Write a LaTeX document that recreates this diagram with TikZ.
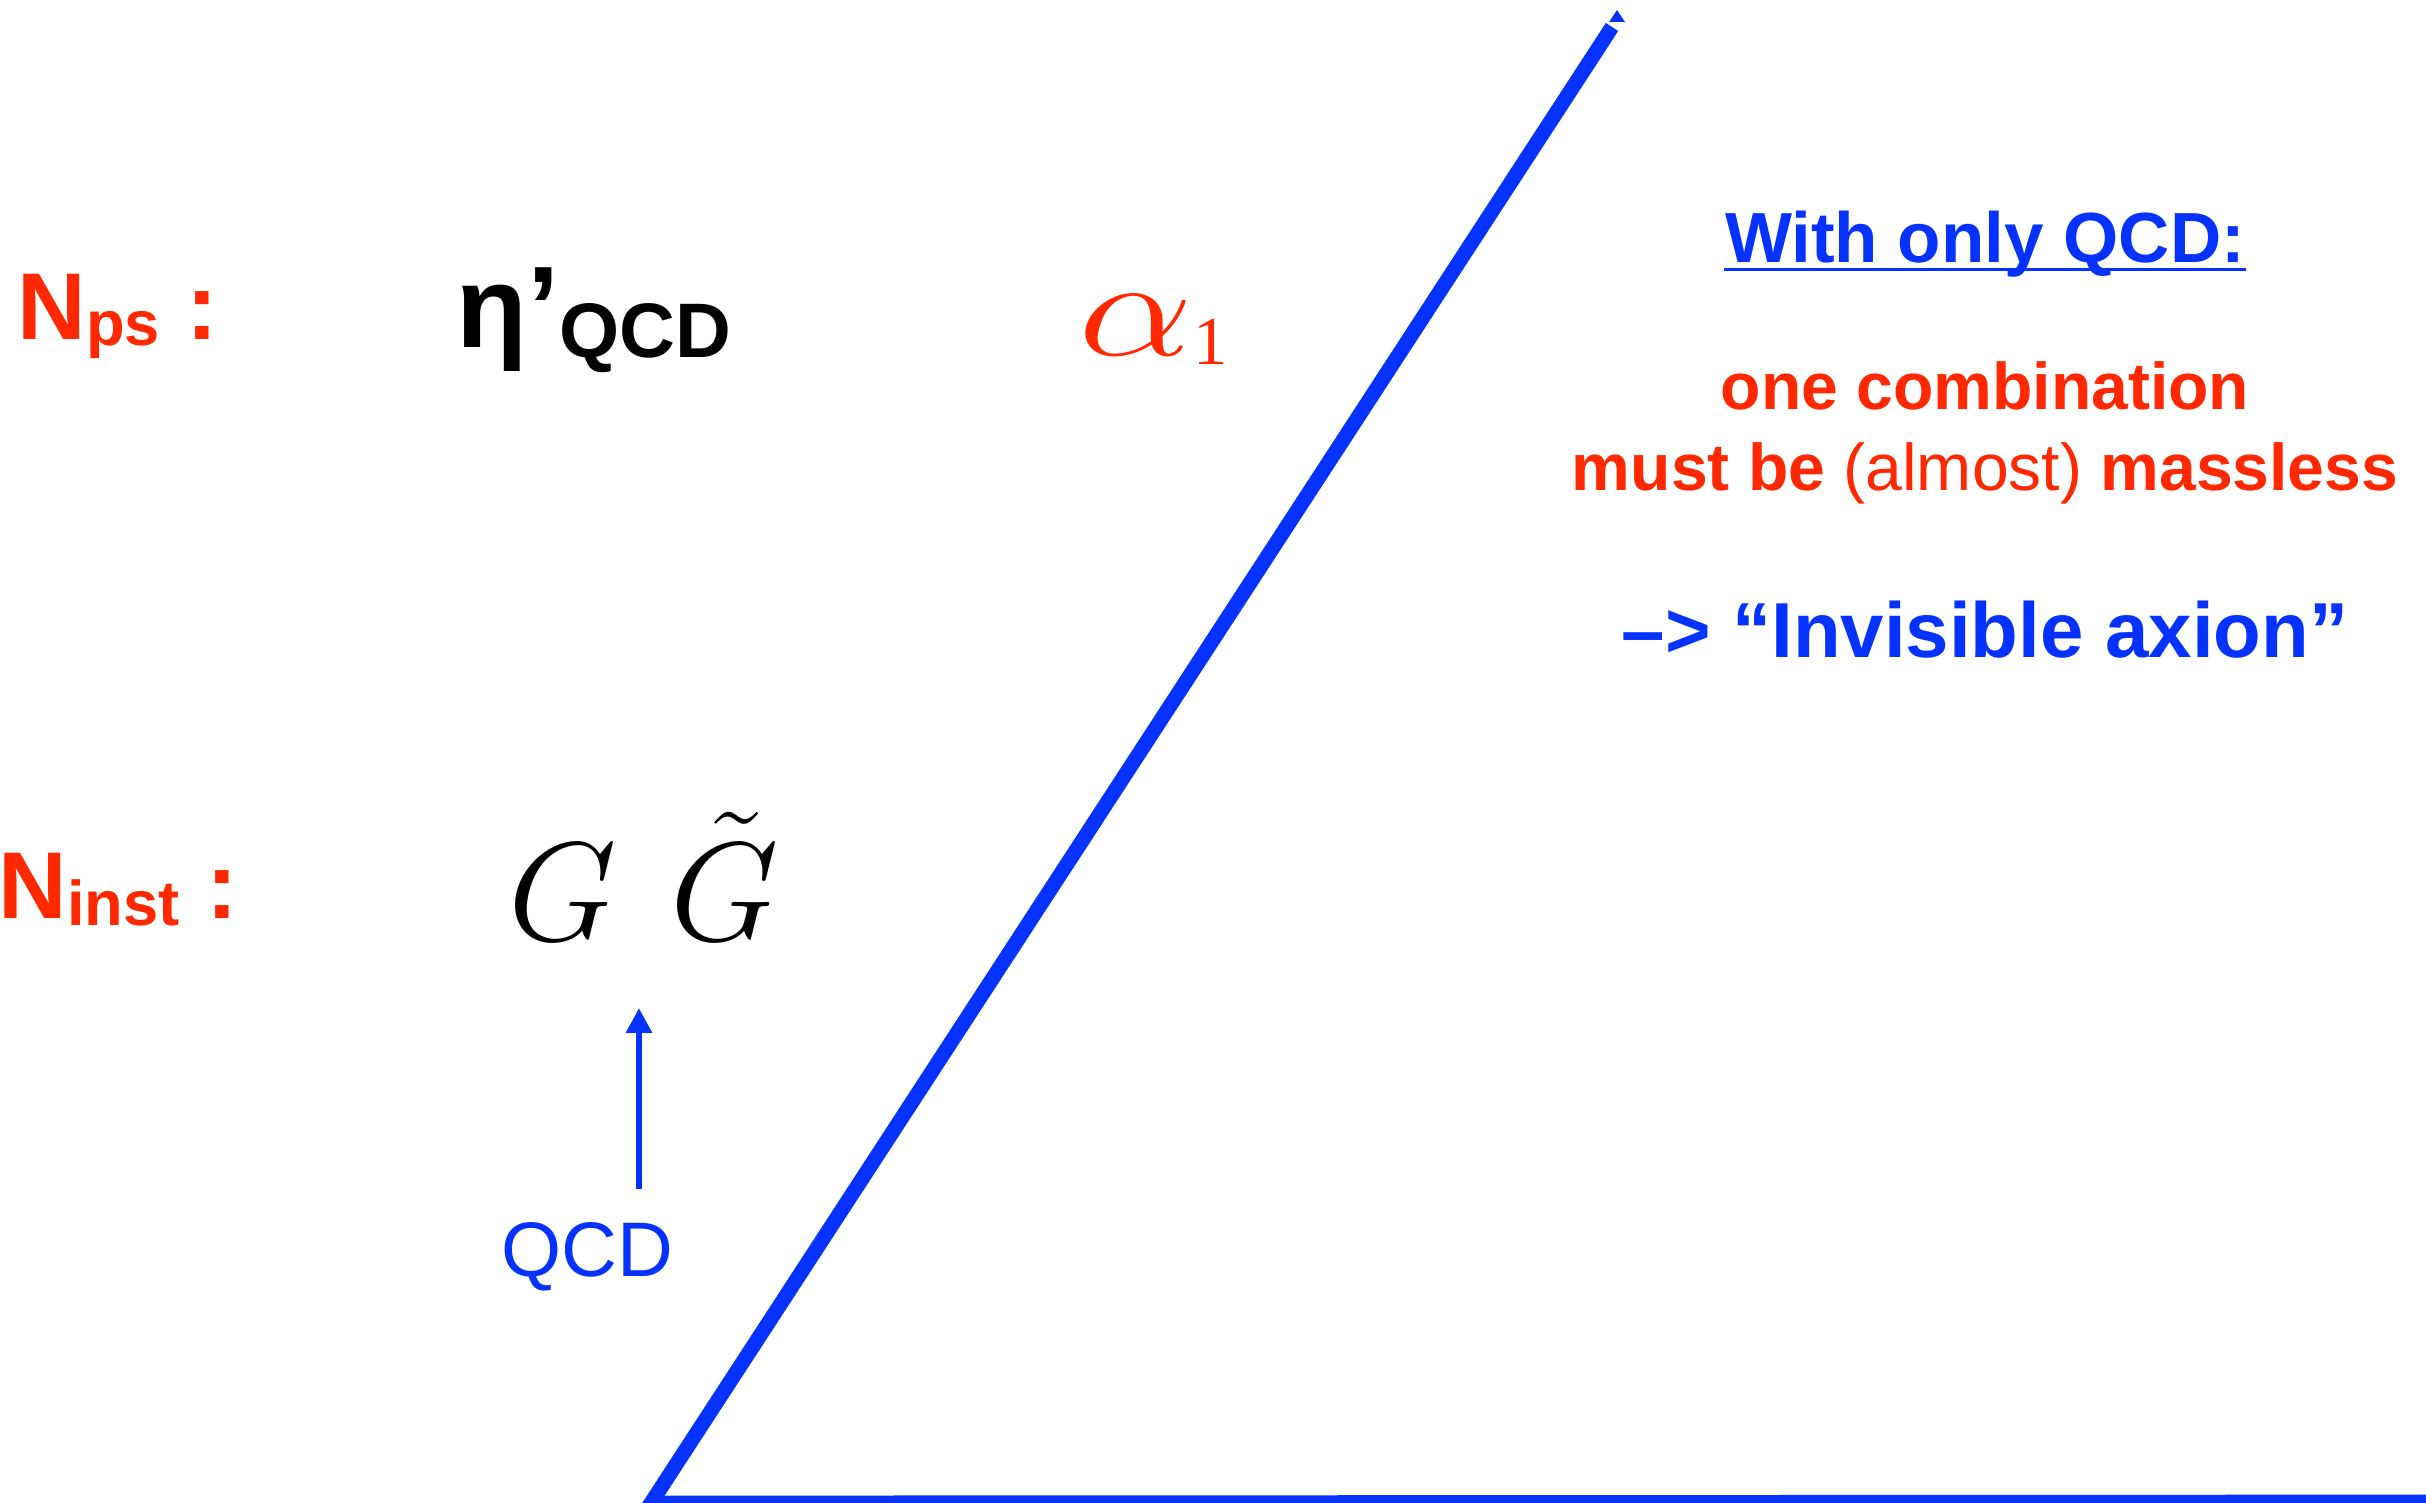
\RequirePackage{fix-cm}
\documentclass[tikz,border=0pt]{standalone}
\usepackage{graphicx}
\usepackage{fontspec}
\setmainfont{Liberation Sans}
\newfontfamily\timesfam{Liberation Serif}
\usetikzlibrary{arrows.meta}
\definecolor{axblue}{RGB}{5,50,255}
\definecolor{axred}{RGB}{255,40,0}
\newcommand{\fsz}[1]{\fontsize{#1}{#1}\selectfont}
\newcommand{\dn}[3]{\raisebox{-#1}{\fsz{#2}#3}}
\tikzset{
  fld/.style  ={inner sep=0pt,anchor=base west},
  nlab/.style ={fld,text=axred,font=\bfseries\fsz{27}},
  rtxt/.style ={inner sep=0pt,anchor=base,font=\bfseries\fsz{18.8}},
}

\begin{document}
\begin{tikzpicture}[
  x=0.1mm, y=-0.1mm,
  wedge/.style ={draw=axblue,line width=4.2pt},
  qarr/.style  ={-{Triangle[length=7.1pt,width=7.1pt]},draw=axblue,line width=1.7pt},
  ulin/.style  ={draw=axblue,line width=0.85pt},
]
\useasboundingbox (0,0) rectangle (2426,1503);
%% left column: the counting
\node[nlab] (nps)   at (17,340)  {N\dn{1.7pt}{18}{ps} :};
\node[nlab] (ninst) at (-2,918)  {N\dn{2pt}{18}{inst} :};
%% the fields
\node[fld,font=\bfseries\fsz{33}] (eta) at (456,348) {η’\dn{2.6pt}{22}{QCD}};
\node[fld,text=axred,font=\fsz{40}] (aone) at (1078,356)
     {\scalebox{1.3}[1]{$\alpha$}\dn{2.3pt}{19.5}{\timesfam 1}};
\node[fld,font=\fsz{40}] (gg)  at (508,940) {$G$};
\node[fld,font=\fsz{40}] (ggt) at (670,940) {$\tilde G$};
\node[fld,text=axblue,font=\fsz{22}] (qcd) at (501,1276) {QCD};
\coordinate (qbase) at (639,1189);
\coordinate (qtip)  at (639,1008);
\draw[qarr] (qbase) -- (qtip);
%% the big wedge
\coordinate (corner) at (651,1503);
\coordinate (ltop)   at (1612,27);
\coordinate (rend)   at (2426,1502);
\draw[wedge,shorten <=-8pt] (corner) -- (ltop);
\draw[wedge] (corner) -- (rend);
\fill[axblue] (1609,22) -- (1617,10) -- (1625,22) -- cycle;
%% right: remarks
\node[rtxt,text=axblue,font=\bfseries\fsz{20.2}] (wq) at (1985,263) {With only QCD:};
\draw[ulin] ([yshift=-1.85pt]wq.base west) -- ([yshift=-1.85pt]wq.base east);
\node[rtxt,text=axred] (oc) at (1985,410) {one combination};
\node[rtxt,text=axred] (mb) at (1985,490) {must be {\mdseries(almost)} massless};
\node[rtxt,text=axblue,font=\bfseries\fsz{22.2}] (ia) at (1985,657) {–> “Invisible axion”};
\end{tikzpicture}
\end{document}
